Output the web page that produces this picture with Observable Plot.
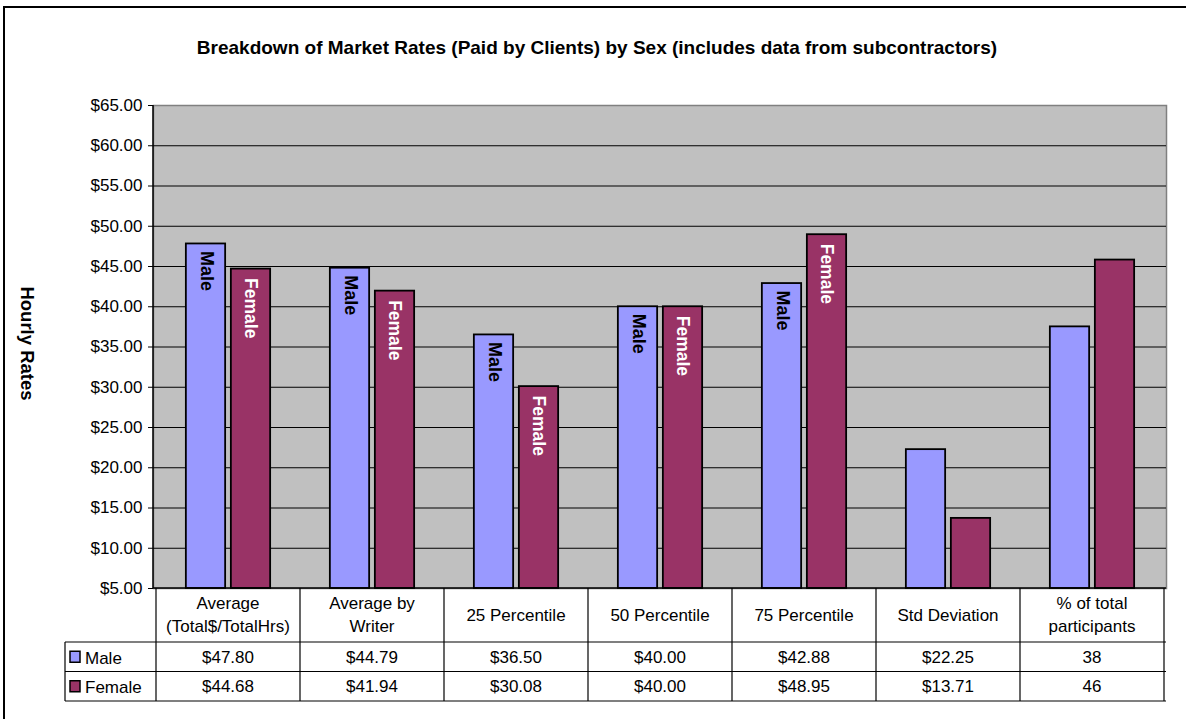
<!DOCTYPE html>
<html><head><meta charset="utf-8">
<script src="https://cdn.jsdelivr.net/npm/d3@7"></script>
<script src="https://cdn.jsdelivr.net/npm/@observablehq/plot@0.6"></script>
<style>
body{margin:0;background:#fff;font-family:Arial,"Liberation Sans",sans-serif}
#chart svg{display:block}
</style>
</head><body><div id="chart"></div>
<script>
const title = "Breakdown of Market Rates (Paid by Clients) by Sex (includes data from subcontractors)";
const yLabel = "Hourly Rates";
const categories = ["Average (Total$/TotalHrs)", "Average by Writer", "25 Percentile", "50 Percentile", "75 Percentile", "Std Deviation", "% of total participants"];
const categoryLines = [["Average", "(Total$/TotalHrs)"], ["Average by", "Writer"], ["25 Percentile"], ["50 Percentile"], ["75 Percentile"], ["Std Deviation"], ["% of total", "participants"]];
const series = ["Male", "Female"];
const maleValues = [47.80, 44.79, 36.50, 40.00, 42.88, 22.25, 37.5];
const femaleValues = [44.68, 41.94, 30.08, 40.00, 48.95, 13.71, 45.8];
const maleLabels = ["$47.80", "$44.79", "$36.50", "$40.00", "$42.88", "$22.25", "38"];
const femaleLabels = ["$44.68", "$41.94", "$30.08", "$40.00", "$48.95", "$13.71", "46"];
const yTicks = [5, 10, 15, 20, 25, 30, 35, 40, 45, 50, 55, 60, 65];
const labeledCategories = categories.slice(0, 5);

const colors = {Male: "#9999FF", Female: "#993366"};
const W = 1186, H = 719, mL = 153, mR = 20, mT = 105, mB = 131;
const FONT = "Arial, 'Liberation Sans', sans-serif";

const rows = categories.flatMap((c, i) => [
  {category: c, sex: series[0], value: maleValues[i]},
  {category: c, sex: series[1], value: femaleValues[i]}
]);
const bw = (W - mL - mR) / categories.length;
const barW = 40, gap = 5, outer = (bw - 2 * barW - gap) / 2;
const labelShift = (gap + barW) / 2;

const plot = Plot.plot({
  width: W, height: H,
  marginLeft: mL, marginRight: mR, marginTop: mT, marginBottom: mB,
  style: {fontFamily: FONT, background: "transparent", color: "#000"},
  x: {domain: categories, padding: 0, axis: null},
  y: {domain: [yTicks[0], yTicks[yTicks.length - 1]], axis: null},
  marks: [
    Plot.frame({fill: "#C0C0C0", stroke: "#808080", strokeWidth: 1.5}),
    Plot.ruleY(yTicks.slice(1, -1), {stroke: "#000", strokeWidth: 1}),
    Plot.axisY({ticks: yTicks, tickFormat: d => "$" + d.toFixed(2), tickSize: 5, tickPadding: 6, fontSize: 17, label: null, stroke: "#000", fill: "#000"}),
    Plot.barY(rows.filter(d => d.sex === "Male"), {
      x: "category", y1: () => yTicks[0], y2: "value",
      fill: colors.Male, stroke: "#000", strokeWidth: 1.8,
      insetLeft: outer, insetRight: bw - outer - barW
    }),
    Plot.barY(rows.filter(d => d.sex === "Female"), {
      x: "category", y1: () => yTicks[0], y2: "value",
      fill: colors.Female, stroke: "#000", strokeWidth: 1.8,
      insetLeft: outer + barW + gap, insetRight: outer
    }),
    Plot.text(rows.filter(d => d.sex === "Male" && labeledCategories.includes(d.category)), {
      x: "category", y: "value", text: "sex", rotate: 90, textAnchor: "start",
      dx: -labelShift + 1, dy: 7, fill: "#000", fontWeight: "bold", fontSize: 18
    }),
    Plot.text(rows.filter(d => d.sex === "Female" && labeledCategories.includes(d.category)), {
      x: "category", y: "value", text: "sex", rotate: 90, textAnchor: "start",
      dx: labelShift, dy: 9, fill: "#fff", fontWeight: "bold", fontSize: 17.5
    })
  ]
});
document.getElementById("chart").appendChild(plot);

// Additional drawing: axis lines, data table, title, outer border
const svg = d3.select(plot);
const xs = plot.scale("x");
const ys = plot.scale("y");
const step = xs.step;
const left = mL, right = W - mR;
const y0 = ys.apply(yTicks[0]);
const yTop = ys.apply(yTicks[yTicks.length - 1]);
const rowH1 = 54, rowH = 29.5;
const yHead = y0 + rowH1, yM = yHead + rowH, yF = yM + rowH;
const keyLeft = 65;

const g = svg.append("g").attr("font-family", FONT).attr("fill", "#000").attr("text-anchor", "start");
// axis lines
g.append("line").attr("x1", left).attr("x2", left).attr("y1", yTop).attr("y2", y0).attr("stroke", "#000").attr("stroke-width", 1.5);
g.append("line").attr("x1", left).attr("x2", right).attr("y1", y0).attr("y2", y0).attr("stroke", "#000").attr("stroke-width", 1.5);

// table lines
[yHead, yM, yF].forEach(y => g.append("line").attr("x1", keyLeft).attr("x2", right).attr("y1", y).attr("y2", y).attr("stroke", "#000").attr("stroke-width", 1.2));
g.append("line").attr("x1", keyLeft).attr("x2", keyLeft).attr("y1", yHead).attr("y2", yF).attr("stroke", "#000").attr("stroke-width", 1.2);
categories.forEach((c, i) => {
  const xl = xs.apply(c);
  g.append("line").attr("x1", xl).attr("x2", xl).attr("y1", y0).attr("y2", yF).attr("stroke", "#000").attr("stroke-width", 1.2);
  if (i === categories.length - 1) {
    g.append("line").attr("x1", xl + step).attr("x2", xl + step).attr("y1", y0).attr("y2", yF).attr("stroke", "#000").attr("stroke-width", 1.2);
  }
  const cx = xl + step / 2;
  const lines = categoryLines[i];
  const mid = (y0 + yHead) / 2;
  lines.forEach((t, j) => {
    g.append("text").attr("x", cx).attr("y", mid + (j - (lines.length - 1) / 2) * 23).attr("dy", "0.35em")
      .attr("text-anchor", "middle").attr("font-size", 17).text(t);
  });
  g.append("text").attr("x", cx).attr("y", (yHead + yM) / 2).attr("dy", "0.35em").attr("text-anchor", "middle").attr("font-size", 17).text(maleLabels[i]);
  g.append("text").attr("x", cx).attr("y", (yM + yF) / 2).attr("dy", "0.35em").attr("text-anchor", "middle").attr("font-size", 17).text(femaleLabels[i]);
});
// legend keys in table
[[series[0], yHead, yM], [series[1], yM, yF]].forEach(([s, a, b]) => {
  const cy = (a + b) / 2;
  g.append("rect").attr("x", keyLeft + 5).attr("y", cy - 5.5).attr("width", 10).attr("height", 11)
    .attr("fill", colors[s]).attr("stroke", "#000").attr("stroke-width", 1.5);
  g.append("text").attr("x", keyLeft + 20).attr("y", cy + 1).attr("dy", "0.35em").attr("text-anchor", "start").attr("font-size", 17).text(s);
});

// title and y label
g.append("text").attr("x", 597).attr("y", 47).attr("dy", "0.35em").attr("text-anchor", "middle")
  .attr("font-size", 19).attr("font-weight", "bold").text(title);
g.append("text").attr("transform", `translate(27,${(yTop + y0) / 2 - 3}) rotate(90)`).attr("dy", "0.35em")
  .attr("text-anchor", "middle").attr("font-size", 18.5).attr("font-weight", "bold").text(yLabel);

// outer border
g.append("path").attr("d", `M4,${H}V7H${W}`).attr("fill", "none").attr("stroke", "#000").attr("stroke-width", 2);
</script>
</body></html>
